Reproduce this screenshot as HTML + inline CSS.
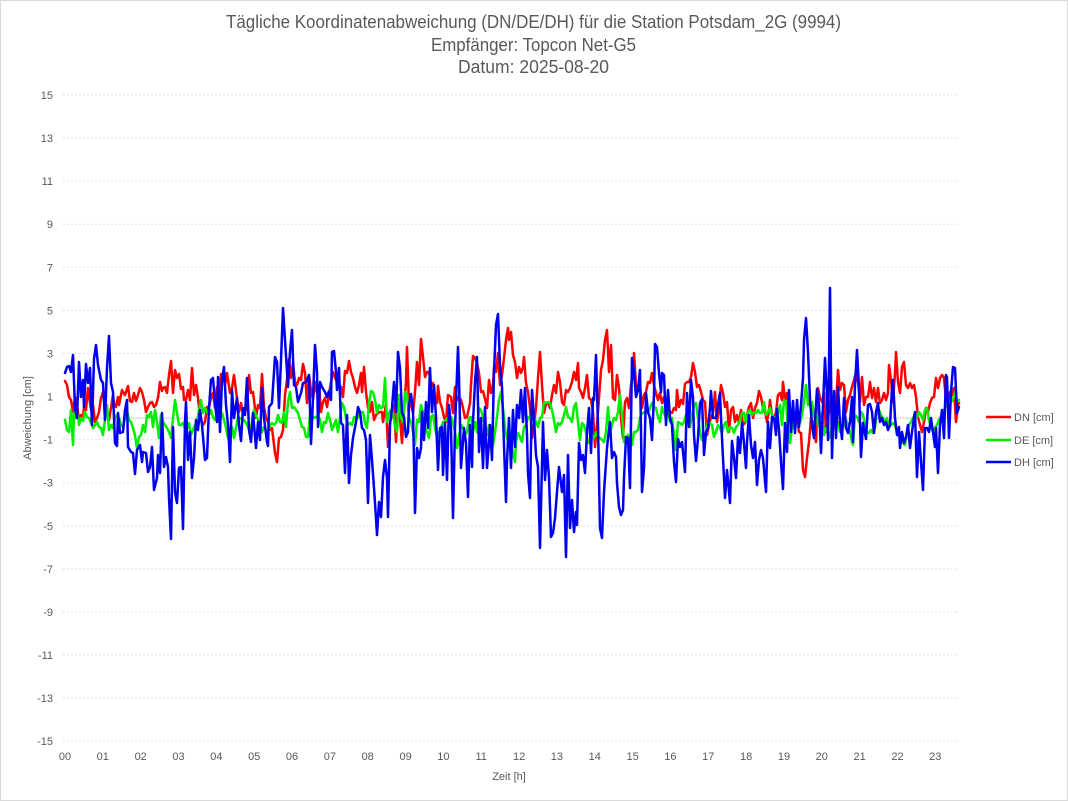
<!DOCTYPE html>
<html><head><meta charset="utf-8"><style>
html,body{margin:0;padding:0;background:#fff;}
svg{display:block;}
text{font-family:"Liberation Sans",Arial,sans-serif;fill:#595959;}
</style></head><body>
<svg width="1068" height="801" viewBox="0 0 1068 801" xmlns="http://www.w3.org/2000/svg">
<rect x="0.5" y="0.5" width="1067" height="800" fill="#fff" stroke="#d9d9d9" stroke-width="1"/>
<text x="533.5" y="28" font-size="18" text-anchor="middle" textLength="615" lengthAdjust="spacingAndGlyphs">Tägliche Koordinatenabweichung (DN/DE/DH) für die Station Potsdam_2G (9994)</text>
<text x="533.5" y="51" font-size="18" text-anchor="middle" textLength="205" lengthAdjust="spacingAndGlyphs">Empfänger: Topcon Net-G5</text>
<text x="533.5" y="73" font-size="18" text-anchor="middle" textLength="151" lengthAdjust="spacingAndGlyphs">Datum: 2025-08-20</text>
<g stroke="#d9d9d9" stroke-width="1" stroke-dasharray="1.5,2.5">
<line x1="63" x2="959" y1="95" y2="95"/><line x1="63" x2="959" y1="138.1" y2="138.1"/><line x1="63" x2="959" y1="181.2" y2="181.2"/><line x1="63" x2="959" y1="224.2" y2="224.2"/><line x1="63" x2="959" y1="267.3" y2="267.3"/><line x1="63" x2="959" y1="310.4" y2="310.4"/><line x1="63" x2="959" y1="353.5" y2="353.5"/><line x1="63" x2="959" y1="396.6" y2="396.6"/><line x1="63" x2="959" y1="439.6" y2="439.6"/><line x1="63" x2="959" y1="482.7" y2="482.7"/><line x1="63" x2="959" y1="525.8" y2="525.8"/><line x1="63" x2="959" y1="568.9" y2="568.9"/><line x1="63" x2="959" y1="611.9" y2="611.9"/><line x1="63" x2="959" y1="655" y2="655"/><line x1="63" x2="959" y1="698.1" y2="698.1"/><line x1="63" x2="959" y1="741.2" y2="741.2"/>
</g>
<line x1="63" x2="959" y1="418.1" y2="418.1" stroke="#d0d0d0" stroke-width="1"/>
<g font-size="11" text-anchor="end">
<text x="53" y="99">15</text><text x="53" y="142.1">13</text><text x="53" y="185.2">11</text><text x="53" y="228.2">9</text><text x="53" y="271.3">7</text><text x="53" y="314.4">5</text><text x="53" y="357.5">3</text><text x="53" y="400.6">1</text><text x="53" y="443.6">-1</text><text x="53" y="486.7">-3</text><text x="53" y="529.8">-5</text><text x="53" y="572.9">-7</text><text x="53" y="615.9">-9</text><text x="53" y="659">-11</text><text x="53" y="702.1">-13</text><text x="53" y="745.2">-15</text>
</g>
<g font-size="11" text-anchor="middle">
<text x="65" y="760">00</text><text x="102.8" y="760">01</text><text x="140.7" y="760">02</text><text x="178.5" y="760">03</text><text x="216.4" y="760">04</text><text x="254.2" y="760">05</text><text x="292" y="760">06</text><text x="329.9" y="760">07</text><text x="367.7" y="760">08</text><text x="405.6" y="760">09</text><text x="443.4" y="760">10</text><text x="481.2" y="760">11</text><text x="519.1" y="760">12</text><text x="556.9" y="760">13</text><text x="594.8" y="760">14</text><text x="632.6" y="760">15</text><text x="670.4" y="760">16</text><text x="708.3" y="760">17</text><text x="746.1" y="760">18</text><text x="784" y="760">19</text><text x="821.8" y="760">20</text><text x="859.6" y="760">21</text><text x="897.5" y="760">22</text><text x="935.3" y="760">23</text>
</g>
<text x="509" y="780" font-size="11" text-anchor="middle">Zeit [h]</text>
<text x="0" y="0" font-size="11" text-anchor="middle" transform="translate(31,418) rotate(-90)">Abweichung [cm]</text>
<g fill="none" stroke-width="2.5" stroke-linejoin="round" stroke-linecap="round">
<polyline stroke="#ff0000" points="65,381 67,385 69,397 71,400 73,412 75,397 77,405 79,420 81,415 83,418 84,407 86,410 88,388 90,403 92,415 93,405 95,422 97,418 99,412 101,398 103,392 105,403 107,413 109,420 111,408 113,395 114,403 116,407 118,397 119,405 122,390 123,392 125,395 128,386 130,401 132,402 134,393 136,401 138,395 140,388 142,392 144,400 146,412 148,407 150,403 152,402 154,407 156,405 158,398 160,382 162,391 163,388 165,387 167,393 169,375 171,361 173,393 175,370 177,378 179,374 181,389 183,387 184,400 186,400 188,390 190,400 192,368 194,395 196,385 198,398 200,417 203,425 205,422 207,407 209,407 211,398 213,393 215,408 217,387 219,400 221,374 223,376 225,385 227,373 230,393 232,388 234,375 237,398 239,412 241,403 243,415 245,412 247,407 249,375 251,393 253,392 254,400 256,418 258,405 260,408 262,374 264,407 266,418 268,422 270,430 272,428 275,453 277,462 279,438 281,437 283,430 285,395 287,380 289,359 291,378 293,363 295,382 297,385 299,378 301,380 303,364 305,373 307,403 309,375 311,390 313,400 315,382 317,393 319,385 321,412 323,402 325,398 327,407 329,395 331,382 333,372 335,377 337,382 339,385 341,387 343,397 345,371 347,373 349,361 351,372 353,378 355,387 357,393 359,385 361,373 362,392 364,367 366,392 368,408 370,412 372,402 374,420 376,415 378,413 380,412 382,412 383,422 386,405 388,447 390,422 392,415 394,405 396,442 398,403 400,418 402,443 404,410 406,382 407,347 409,405 411,405 413,413 415,392 417,362 419,385 421,339 423,357 425,377 427,372 429,372 431,385 433,383 435,400 437,403 438,386 440,402 442,408 444,417 446,422 448,395 451,397 453,413 455,387 457,400 459,397 461,400 463,408 465,418 467,417 470,403 471,385 473,356 475,358 477,363 479,373 481,392 483,391 485,399 487,408 489,380 491,393 493,385 494,367 496,372 498,353 500,385 502,375 504,358 506,340 508,328 509,340 511,332 513,355 515,362 517,378 519,367 521,373 523,367 524,357 526,383 528,392 530,408 532,438 534,425 536,408 538,378 540,352 542,385 544,413 546,404 548,403 550,408 552,395 554,385 556,393 558,372 560,382 562,402 564,405 566,390 568,392 570,388 572,382 574,372 576,380 578,363 579,388 581,392 583,398 585,388 587,375 589,398 591,400 593,412 595,447 597,425 599,398 601,370 603,360 605,340 607,330 609,372 611,345 613,398 615,400 617,375 619,388 621,418 623,438 625,402 627,398 629,408 631,385 633,375 634,353 636,385 638,388 640,385 642,408 644,395 646,392 648,382 650,383 652,373 654,385 656,393 658,400 660,393 662,403 664,397 666,412 668,407 670,412 672,413 674,408 676,410 677,390 679,407 681,400 683,404 685,384 687,382 689,382 691,377 693,363 695,372 697,387 699,385 701,392 703,400 705,402 707,435 709,425 711,417 713,413 715,392 717,422 719,408 721,385 723,393 725,407 727,402 729,432 731,410 733,407 735,422 737,415 739,423 741,410 743,425 745,423 747,415 749,407 751,403 753,418 755,408 757,403 759,391 761,397 763,408 765,412 767,422 769,410 770,400 772,415 774,418 776,412 778,395 780,393 782,400 783,382 785,400 787,393 789,408 791,417 793,422 795,413 797,418 799,432 801,433 803,470 805,477 807,458 809,442 811,418 813,422 814,432 816,442 818,388 820,398 822,402 824,393 826,432 828,418 830,405 832,397 834,397 836,405 838,370 840,390 842,383 844,385 846,412 848,400 850,395 852,387 854,380 856,373 858,382 860,402 862,377 864,405 866,397 868,397 870,382 872,398 874,388 876,402 878,388 880,403 882,400 884,393 886,400 888,393 889,365 891,380 893,402 895,373 896,352 898,382 900,393 902,367 904,362 906,385 908,388 910,383 912,388 914,385 916,397 918,417 920,425 922,432 924,422 926,408 928,412 930,403 932,398 934,397 936,378 938,388 940,378 942,375 944,378 946,400 948,402 950,392 952,395 954,388 956,422 958,405 959,403"/>
<polyline stroke="#00ee00" points="65,420 67,430 69,432 71,410 73,445 74,413 76,418 78,415 79,425 81,418 83,421 85,412 87,417 89,418 91,423 93,428 95,425 97,422 99,427 101,428 103,435 105,420 107,405 109,430 111,425 113,428 115,418 117,415 119,418 121,425 123,427 125,418 127,410 129,420 131,422 133,428 135,435 137,448 139,437 141,435 143,425 145,432 147,415 149,417 151,412 153,427 155,410 157,422 159,438 161,415 163,422 165,425 167,428 169,432 171,438 173,418 175,400 177,413 179,425 181,425 183,423 185,428 187,428 189,423 191,435 193,430 195,425 197,422 199,410 201,400 203,413 205,408 207,412 209,415 211,410 213,417 215,420 216,417 218,420 220,418 222,413 224,420 226,428 228,438 230,428 232,427 234,438 236,428 238,417 240,418 242,420 244,420 246,423 248,427 250,433 252,422 254,410 256,415 258,420 260,422 262,432 264,427 266,430 268,432 270,425 272,423 274,425 276,423 278,415 280,422 282,423 284,412 286,427 288,402 290,392 292,408 294,407 296,410 298,413 300,420 302,427 304,428 306,437 308,437 310,415 312,415 314,418 316,417 318,415 320,420 322,432 324,422 326,423 328,413 330,420 332,430 334,425 336,420 338,432 340,418 342,403 344,407 346,418 348,425 350,423 352,425 354,417 356,420 358,417 360,413 363,412 365,423 367,428 369,403 371,391 373,392 375,400 377,413 379,405 381,408 383,407 385,378 387,422 389,413 391,410 393,413 395,427 397,432 399,395 401,418 403,422 405,392 407,395 409,418 411,422 413,432 415,445 417,420 419,422 421,405 423,412 425,428 427,432 429,438 431,417 433,415 435,428 437,437 439,432 441,428 443,422 445,422 447,418 449,422 451,417 453,422 455,432 457,448 459,437 461,425 463,428 465,435 467,432 469,418 471,417 473,432 475,422 477,432 479,408 481,410 483,418 485,425 487,435 489,425 491,438 493,445 495,432 497,417 499,400 501,392 503,408 505,428 507,438 509,445 511,442 513,453 515,462 516,442 518,433 520,437 522,442 524,427 526,425 528,417 530,418 532,417 534,417 536,422 538,427 540,418 542,417 544,402 546,403 548,402 550,403 552,410 554,420 556,432 558,423 560,425 562,422 564,415 566,407 568,417 570,418 572,422 574,407 576,403 578,422 580,440 582,423 584,425 586,432 588,443 590,442 592,437 594,438 596,432 598,437 600,438 602,440 604,442 606,432 608,407 610,433 612,425 614,418 616,420 618,412 620,395 622,415 624,442 626,438 628,435 630,440 632,445 634,432 636,432 638,430 640,418 642,413 644,413 646,410 648,413 650,408 652,403 654,407 656,408 658,417 660,422 662,407 664,413 666,418 668,410 670,422 672,418 674,435 676,450 678,422 680,423 682,425 684,422 686,415 688,422 690,427 692,415 694,405 696,403 698,418 700,432 702,440 704,438 706,433 708,422 710,423 712,425 714,437 716,432 718,425 720,428 722,433 724,425 726,422 728,432 730,427 732,428 734,433 736,427 738,425 740,420 742,413 744,413 746,422 748,412 750,410 752,415 754,412 756,413 758,410 760,413 762,413 764,402 766,415 768,412 770,408 772,415 774,417 776,418 778,413 780,405 782,425 784,400 786,402 788,428 790,443 792,428 794,420 796,415 798,413 800,423 802,415 804,402 806,385 808,405 810,403 812,402 814,417 816,410 818,425 820,417 822,413 824,435 826,428 828,432 830,438 832,425 834,428 836,427 838,422 840,432 842,428 844,425 846,420 848,425 850,432 852,442 853,445 855,415 857,417 859,422 861,412 863,415 865,425 867,432 869,433 871,430 873,433 875,428 877,412 879,410 881,415 883,418 885,423 887,418 889,427 891,425 893,423 895,425 897,432 899,437 901,438 903,443 905,445 907,432 909,425 911,422 913,418 915,415 917,417 919,412 921,415 923,420 925,410 927,408 929,420 931,428 933,432 935,428 937,425 939,420 941,417 943,412 945,408 947,403 949,400 951,402 953,400 955,392 957,402 959,400"/>
<polyline stroke="#0000ee" points="65,373 67,367 69,366 71,372 73,355 75,408 77,418 79,362 81,397 83,380 84,407 86,364 88,383 90,368 92,425 94,359 96,345 98,365 101,380 103,383 105,420 107,368 109,336 111,383 113,392 115,443 117,446 118,413 120,433 123,432 125,410 127,400 128,447 131,452 133,453 135,474 137,450 140,445 142,462 143,452 146,453 148,472 150,467 152,447 154,490 157,478 158,455 160,473 162,413 164,467 166,457 168,467 169,498 171,539 173,427 175,492 177,503 179,468 181,467 183,529 185,422 186,402 188,460 190,432 192,478 194,458 196,420 198,430 200,410 202,425 205,460 207,458 209,408 211,380 213,378 215,402 217,422 218,377 220,432 222,380 224,367 226,405 228,425 230,462 232,390 234,418 237,398 239,425 241,441 243,408 245,415 247,378 249,430 251,442 253,413 256,448 258,422 260,440 262,388 264,418 267,442 268,446 269,407 272,403 275,357 277,362 279,408 281,360 283,308 285,340 288,387 290,352 292,330 294,385 296,387 298,402 301,393 303,383 306,382 309,375 311,444 313,398 315,345 317,372 318,427 320,382 322,387 325,392 327,397 329,391 331,400 332,352 334,351 336,372 337,390 339,368 341,423 343,425 345,473 347,415 349,483 351,455 353,438 356,422 358,407 360,412 362,428 364,430 366,440 368,503 370,435 372,460 374,488 376,518 377,535 379,502 381,517 383,477 385,460 387,478 388,517 390,425 392,408 394,382 396,412 398,352 400,368 402,413 404,417 406,437 408,432 409,405 411,394 413,410 415,513 417,448 419,458 421,448 422,412 424,440 426,402 428,428 430,368 432,412 434,385 436,417 438,470 440,428 442,427 443,475 445,423 447,480 449,405 451,428 453,518 455,428 458,347 459,378 461,468 464,428 466,443 468,497 470,425 472,467 473,422 475,382 477,357 479,452 481,418 483,468 485,407 487,468 489,442 490,425 492,460 494,372 496,325 498,314 500,365 502,387 504,445 506,502 507,462 509,418 511,468 513,410 515,447 517,405 519,418 521,390 523,422 525,388 527,435 528,473 530,498 532,390 534,418 536,455 538,467 540,548 543,422 545,480 547,450 549,478 551,537 553,533 555,518 557,492 559,467 562,492 564,475 566,557 568,455 570,528 572,500 574,532 576,512 577,525 579,443 581,460 583,455 585,473 587,432 589,408 591,453 593,398 594,400 596,355 598,425 600,528 602,538 604,492 607,448 608,438 610,422 612,458 614,452 616,457 617,483 619,507 621,515 623,510 624,478 626,437 628,438 630,488 632,358 634,372 636,397 638,390 640,370 642,492 644,468 646,393 648,412 650,418 652,440 654,395 655,344 657,347 659,373 661,392 662,373 664,375 666,425 668,390 670,418 672,425 674,462 676,482 678,439 680,447 682,442 685,472 687,393 689,427 691,380 693,398 694,435 696,461 698,438 700,403 702,399 704,455 706,432 708,428 710,408 711,391 713,418 716,418 718,405 720,393 721,418 723,458 725,498 727,470 730,503 732,441 734,458 736,478 738,437 740,453 742,423 744,443 746,468 747,442 749,415 751,445 753,458 755,442 757,485 759,460 761,450 763,458 766,492 768,422 770,448 772,417 774,418 776,435 777,409 779,430 781,462 783,489 785,423 787,452 789,390 791,432 793,401 795,433 797,400 799,427 801,405 803,378 804,340 806,318 808,352 810,400 812,425 814,438 817,389 819,405 821,453 823,405 825,358 827,395 828,440 830,288 832,458 834,391 836,438 838,387 840,423 842,439 844,398 846,428 848,433 850,422 852,397 853,442 855,385 857,350 859,388 861,457 863,423 866,439 868,405 870,404 872,412 874,433 876,412 878,403 880,422 882,418 884,425 886,422 888,430 890,425 892,388 893,380 895,418 897,435 899,427 900,448 902,432 904,443 906,437 908,425 910,448 912,432 914,417 915,412 917,477 919,432 921,462 923,490 925,428 927,428 929,432 931,418 933,432 935,447 936,428 938,473 940,425 942,410 944,438 946,375 947,377 949,438 951,392 953,367 955,368 957,413 959,407"/>
</g>
<g stroke-width="2.5">
<line x1="986" x2="1011" y1="417" y2="417" stroke="#ff0000"/>
<line x1="986" x2="1011" y1="440" y2="440" stroke="#00ee00"/>
<line x1="986" x2="1011" y1="462" y2="462" stroke="#0000ee"/>
</g>
<g font-size="11">
<text x="1014" y="421">DN [cm]</text>
<text x="1014" y="444">DE [cm]</text>
<text x="1014" y="466">DH [cm]</text>
</g>
</svg>
</body></html>
